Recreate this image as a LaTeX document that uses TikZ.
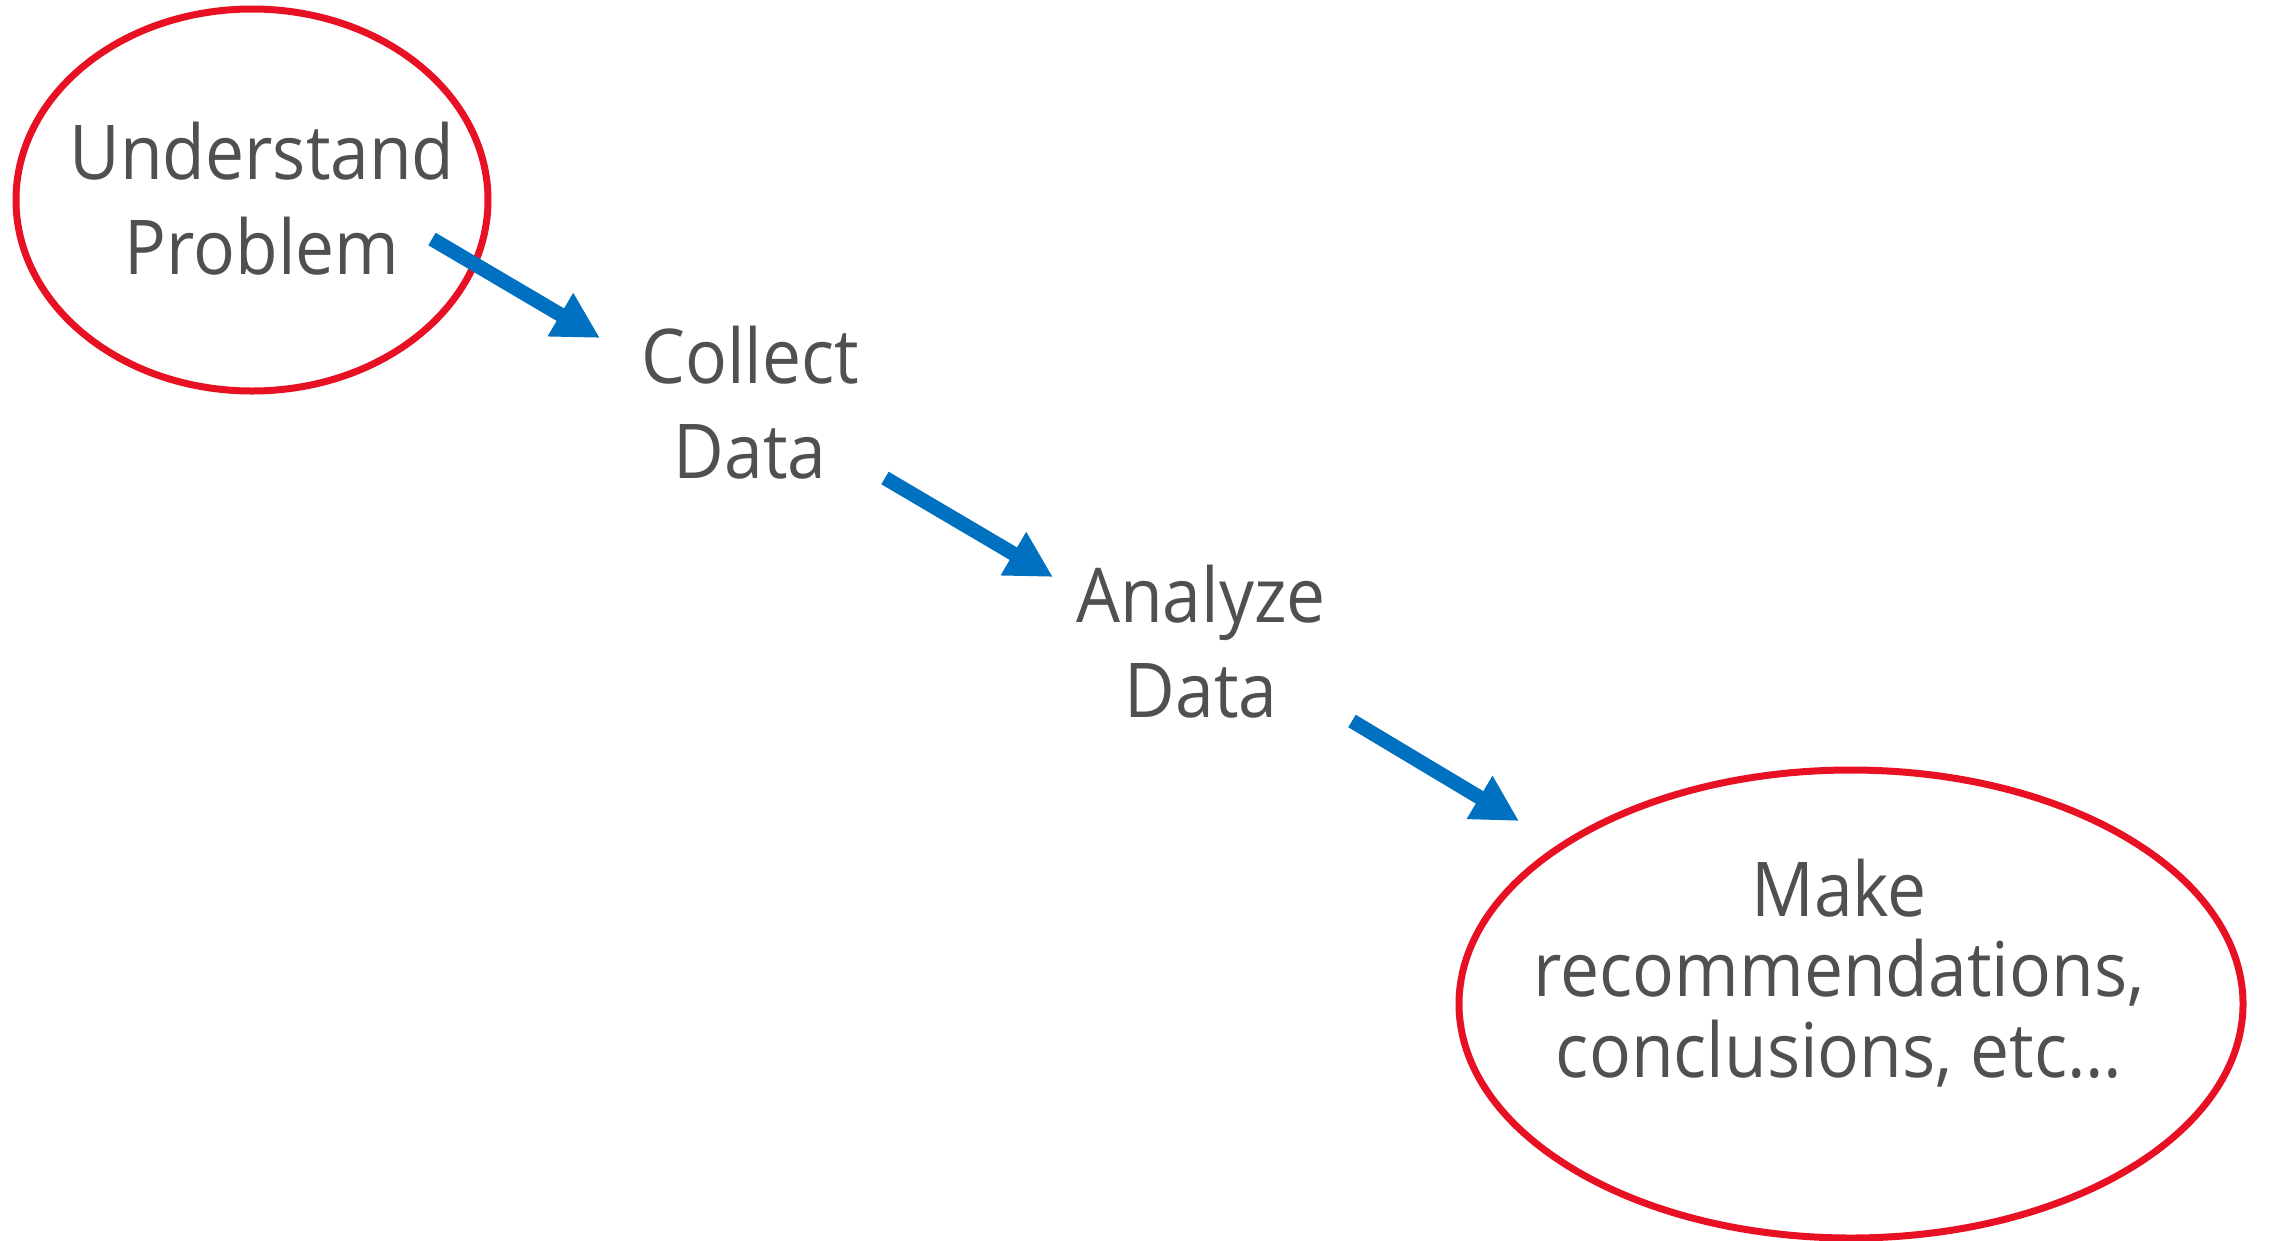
\documentclass[tikz,border=0pt]{standalone}
\usepackage{fontspec}
\setmainfont{Open Sans}[FakeStretch=0.92]
\usetikzlibrary{arrows.meta,shapes.geometric}
\definecolor{txtgray}{RGB}{80,80,80}
\definecolor{ovalred}{RGB}{232,17,35}
\definecolor{arrowblue}{RGB}{0,112,192}
\tikzset{
  oval/.style={ellipse, draw=ovalred, line width=7pt, inner sep=0pt},
  label2/.style={align=center, text=txtgray, inner sep=0pt, anchor=base,
    font=\fontsize{75.6}{95}\selectfont},
  label3/.style={label2, font=\fontsize{75.6}{80.5}\selectfont},
  flow/.style={draw=arrowblue, line width=14.5pt, line cap=butt,
    -{Triangle[length=46pt,width=47pt]}}
}
\begin{document}
\begin{tikzpicture}[x=1pt,y=-1pt]
\fill[white] (0,0) rectangle (2270,1240);
\useasboundingbox (0,0) rectangle (2270,1240);
% ovals
\node[oval, minimum width=472pt, minimum height=382pt] (o1) at (252,200) {};
\node[oval, minimum width=784pt, minimum height=468pt] (o2) at (1851,1004) {};
% labels
\node[label2] (u) at (262,274) {Understand\\Problem};
\node[label2] (c) at (750,478) {Collect\\Data};
\node[label2] (a) at (1201,717) {Analyze\\Data};
\node[label3] (m) at (1839,1077) {Make\\recommendations,\\conclusions, etc\ldots};
% arrow end points
\coordinate (a1s) at (432,239);
\coordinate (a1e) at (600,338);
\coordinate (a2s) at (885,478);
\coordinate (a2e) at (1053,577);
\coordinate (a3s) at (1352,721);
\coordinate (a3e) at (1519,821);
\draw[flow] (a1s) -- (a1e);
\draw[flow] (a2s) -- (a2e);
\draw[flow] (a3s) -- (a3e);
\end{tikzpicture}
\end{document}
